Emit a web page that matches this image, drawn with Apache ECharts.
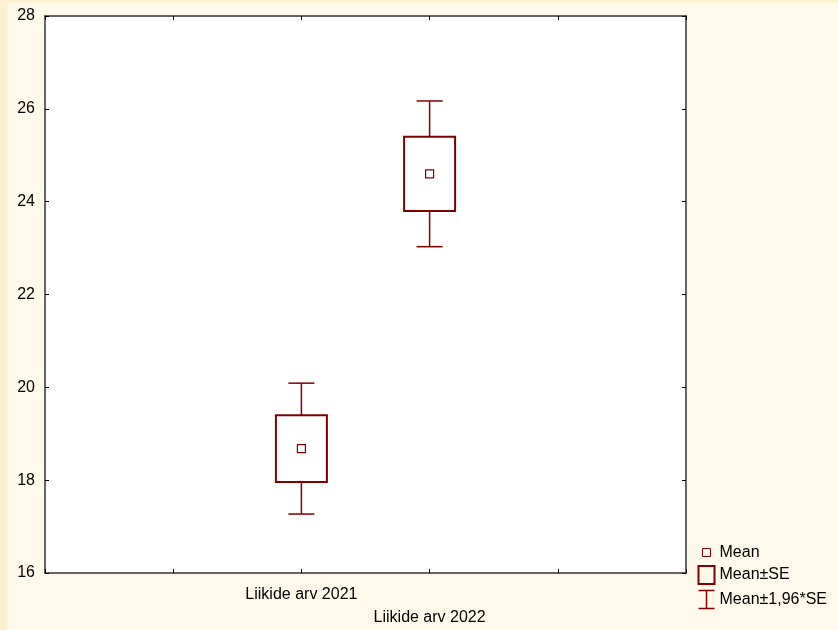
<!DOCTYPE html>
<html>
<head>
<meta charset="utf-8">
<script src="https://cdn.jsdelivr.net/npm/echarts@6/dist/echarts.min.js"></script>
<style>
  html, body { margin: 0; padding: 0; background: #FFF9EC; }
  #chart { width: 838px; height: 630px; }
</style>
</head>
<body>
<div id="chart"></div>
<script>
// slots along the x axis (5 equal steps, the two groups sit in the middle)
var slots = ['', '', 'Liikide arv 2021', 'Liikide arv 2022', '', '']
var groupSlot = [2, 3]
var means = [18.68, 24.60]
var seLow = [17.96, 23.80]
var seHigh = [19.40, 25.40]
var ciLow = [17.27, 23.03]
var ciHigh = [20.09, 26.17]
var yTicks = [16, 18, 20, 22, 24, 26, 28]

var RED = '#800000'
var FONT = '"Liberation Sans", Arial, sans-serif'

var chart = echarts.init(document.getElementById('chart'))

function renderWhisker (params, api) {
  var x = api.value(0)
  var lo = api.coord([x, api.value(1)])
  var b1 = api.coord([x, api.value(2)])
  var b2 = api.coord([x, api.value(3)])
  var hi = api.coord([x, api.value(4)])
  var cap = 13
  var st = { stroke: RED, lineWidth: 1.5, fill: null }
  return {
    type: 'group',
    children: [
      { type: 'line', shape: { x1: lo[0], y1: lo[1], x2: b1[0], y2: b1[1] }, style: st },
      { type: 'line', shape: { x1: b2[0], y1: b2[1], x2: hi[0], y2: hi[1] }, style: st },
      { type: 'line', shape: { x1: lo[0] - cap, y1: lo[1], x2: lo[0] + cap, y2: lo[1] }, style: st },
      { type: 'line', shape: { x1: hi[0] - cap, y1: hi[1], x2: hi[0] + cap, y2: hi[1] }, style: st }
    ]
  }
}

function renderBox (params, api) {
  var x = api.value(0)
  var lo = api.coord([x, api.value(1)])
  var hi = api.coord([x, api.value(2)])
  var w = 51
  return {
    type: 'rect',
    shape: { x: lo[0] - w / 2, y: hi[1], width: w, height: lo[1] - hi[1] },
    style: { stroke: RED, lineWidth: 2, fill: null }
  }
}

var axisLine = { show: true, lineStyle: { color: '#333', width: 1.5 } }
var axisTick = { show: true, inside: true, length: 4, interval: 0, lineStyle: { color: '#000', width: 1 } }

chart.setOption({
  backgroundColor: '#FFF9EC',
  animation: false,
  graphic: [
    { type: 'rect', left: 0, top: 0, shape: { width: 7, height: 630 }, style: { fill: '#FFF1CF' }, z: -1 },
    { type: 'rect', left: 0, top: 0, shape: { width: 838, height: 3 }, style: { fill: '#FFF1CF' }, z: -1 }
  ],
  grid: {
    left: 45,
    right: 152,
    top: 16,
    bottom: 57,
    show: true,
    backgroundColor: '#fff',
    borderWidth: 0
  },
  xAxis: [
    {
      type: 'category',
      data: slots,
      boundaryGap: false,
      position: 'bottom',
      axisLine: axisLine,
      axisTick: axisTick,
      splitLine: { show: false },
      axisLabel: {
        interval: 0,
        margin: 10,
        fontFamily: FONT,
        fontSize: 16,
        color: '#000',
        lineHeight: 23,
        formatter: function (v, i) { return i === 3 ? '\n' + v : v }
      }
    },
    {
      type: 'category',
      data: slots,
      boundaryGap: false,
      position: 'top',
      axisLine: axisLine,
      axisTick: axisTick,
      splitLine: { show: false },
      axisLabel: { show: false }
    }
  ],
  yAxis: [
    {
      type: 'value',
      position: 'left',
      min: yTicks[0],
      max: yTicks[yTicks.length - 1],
      interval: yTicks[1] - yTicks[0],
      axisLine: axisLine,
      axisTick: axisTick,
      splitLine: { show: false },
      axisLabel: { margin: 10, fontFamily: FONT, fontSize: 16, color: '#000' }
    },
    {
      type: 'value',
      position: 'right',
      min: yTicks[0],
      max: yTicks[yTicks.length - 1],
      interval: yTicks[1] - yTicks[0],
      axisLine: axisLine,
      axisTick: axisTick,
      splitLine: { show: false },
      axisLabel: { show: false }
    }
  ],
  legend: {
    orient: 'vertical',
    left: 696,
    top: 543,
    itemWidth: 16,
    itemHeight: 18,
    itemGap: 3,
    padding: 0,
    selectedMode: false,
    textStyle: { fontFamily: FONT, fontSize: 16, color: '#000' },
    data: [
      { name: 'Mean', icon: 'path://M0,0M16,18M4,5H12V13H4Z', itemStyle: { color: '#FFF9EC', borderColor: RED, borderWidth: 1 } },
      { name: 'Mean±SE', icon: 'path://M0,0H16V18H0Z', itemStyle: { color: '#FFF9EC', borderColor: RED, borderWidth: 2 } },
      { name: 'Mean±1,96*SE', icon: 'path://M0,0H16M8,0V18M0,18H16', itemStyle: { color: 'none', borderColor: RED, borderWidth: 1.5 } }
    ]
  },
  series: [
    {
      name: 'Mean±1,96*SE',
      type: 'custom',
      renderItem: renderWhisker,
      itemStyle: { color: RED },
      data: groupSlot.map(function (g, i) { return [g, ciLow[i], seLow[i], seHigh[i], ciHigh[i]] })
    },
    {
      name: 'Mean±SE',
      type: 'custom',
      renderItem: renderBox,
      itemStyle: { color: RED },
      data: groupSlot.map(function (g, i) { return [g, seLow[i], seHigh[i]] })
    },
    {
      name: 'Mean',
      type: 'scatter',
      symbol: 'rect',
      symbolSize: 8,
      itemStyle: { color: '#fff', borderColor: RED, borderWidth: 1.2, opacity: 1 },
      data: groupSlot.map(function (g, i) { return [g, means[i]] })
    }
  ]
})
</script>
</body>
</html>
